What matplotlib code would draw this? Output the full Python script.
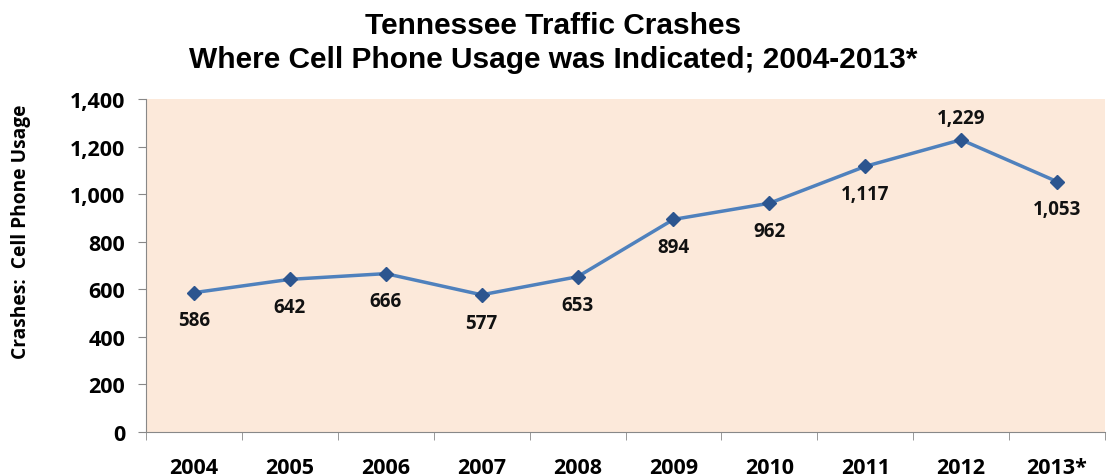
import numpy as np
import matplotlib
matplotlib.use("Agg")
import matplotlib.pyplot as plt
from matplotlib.ticker import FuncFormatter

years = ["2004", "2005", "2006", "2007", "2008", "2009", "2010", "2011", "2012", "2013*"]
crashes = [586, 642, 666, 577, 653, 894, 962, 1117, 1229, 1053]
label_above = [False, False, False, False, False, False, False, False, True, False]
yticks = [0, 200, 400, 600, 800, 1000, 1200, 1400]

body_font = ["Open Sans", "DejaVu Sans"]
title_font = ["Liberation Sans Narrow", "Liberation Sans", "DejaVu Sans"]


def main():
    fig = plt.figure(figsize=(11.07, 4.77), dpi=100)
    ax = fig.add_axes([0.1319, 0.0922, 0.8663, 0.698])
    ax.set_facecolor("#FCE9DA")

    x = np.arange(len(years))
    ax.plot(x, crashes, color="#4F81BD", linewidth=2.5, marker="D",
            markersize=7, markerfacecolor="#2C558F", markeredgecolor="#2C558F", zorder=3)

    for xi, val, up in zip(x, crashes, label_above):
        off = 16 if up else -20
        ax.annotate(f"{val:,}", (xi, val), xytext=(0, off), textcoords="offset points",
                    ha="center", va="center", fontsize=13.5, fontweight="bold",
                    family=body_font, color="#111111")

    ax.set_xlim(-0.5, len(years) - 0.5)
    ax.set_ylim(0, 1400)
    ax.set_yticks(yticks)
    ax.yaxis.set_major_formatter(FuncFormatter(lambda v, p: f"{int(v):,}"))
    ax.set_xticks(x)
    ax.set_xticklabels(years)
    ax.set_xticks(np.arange(-0.5, len(years)), minor=True)
    ax.tick_params(axis="x", which="major", length=0, pad=18)
    ax.tick_params(axis="x", which="minor", length=6, color="#888888")
    ax.tick_params(axis="y", length=6, color="#888888", pad=9)
    for lab in ax.get_xticklabels() + ax.get_yticklabels():
        lab.set_fontweight("bold")
        lab.set_fontsize(15.5)
        lab.set_family(body_font)

    for s in ["top", "right"]:
        ax.spines[s].set_visible(False)
    for s in ["left", "bottom"]:
        ax.spines[s].set_color("#888888")

    fig.text(0.019, 0.514, "Crashes:  Cell Phone Usage", rotation=90, ha="center", va="center",
             fontsize=13.8, fontweight="bold", family=body_font)
    fig.text(0.5, 0.945, "Tennessee Traffic Crashes", ha="center", va="center",
             fontsize=21.5, fontweight="bold", family=title_font)
    fig.text(0.5, 0.875, "Where Cell Phone Usage was Indicated; 2004-2013*", ha="center", va="center",
             fontsize=21.5, fontweight="bold", family=title_font)

    fig.savefig("out.png", dpi=100)


if __name__ == "__main__":
    main()
